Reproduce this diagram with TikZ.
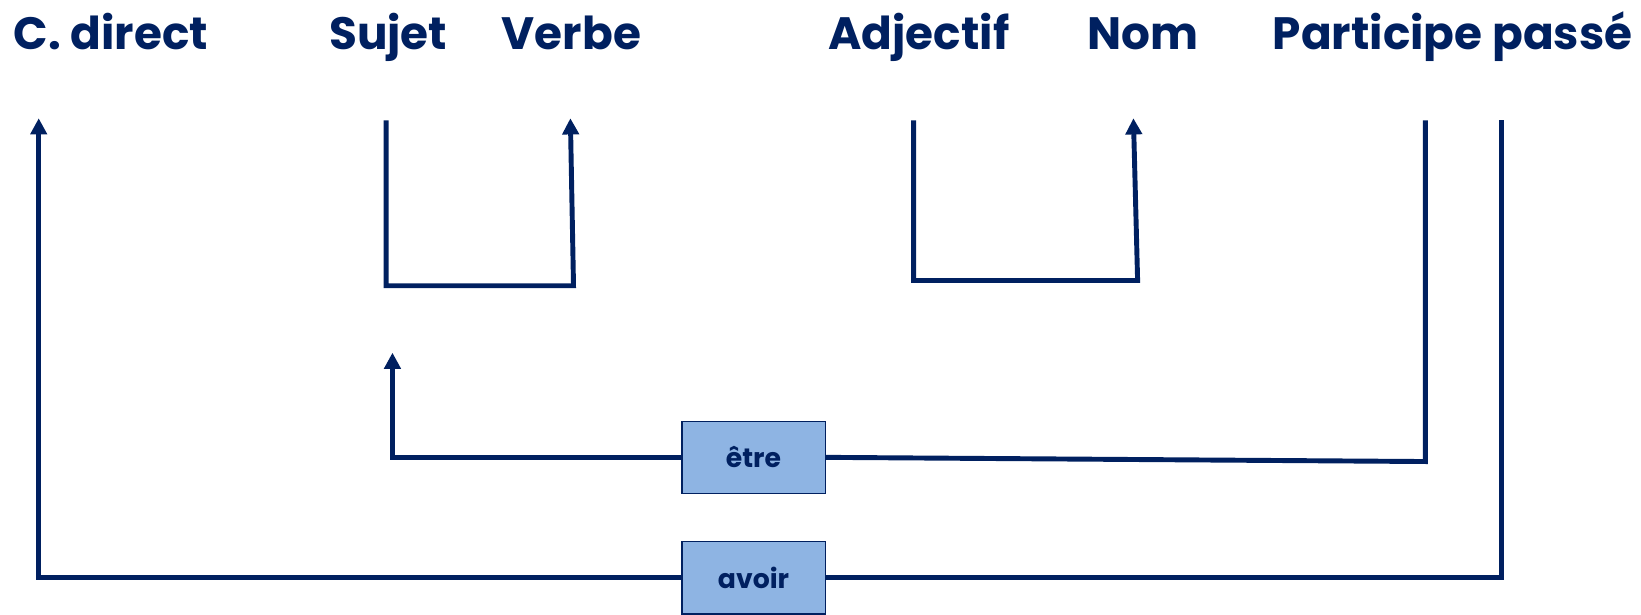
\documentclass[tikz,border=0pt]{standalone}
\usepackage{fontspec}
\setmainfont{Poppins}
\usepackage{tikz}
\usetikzlibrary{arrows.meta}
\definecolor{navy}{HTML}{002060}
\definecolor{boxblue}{HTML}{8EB4E3}

\begin{document}
\begin{tikzpicture}[x=0.010466cm,y=-0.010466cm,
    word/.style={anchor=base,inner sep=0pt,text=navy,font=\fontsize{12.9}{15}\selectfont\bfseries},
    aux/.style={draw=navy,fill=boxblue,minimum width=1.434cm,minimum height=0.722cm,inner sep=0pt,text=navy,font=\fontsize{7.6}{8}\selectfont\bfseries},
    link/.style={draw=navy,line width=1.4pt},
    tip/.style={-{Triangle[width=4.6pt,length=4.6pt]}}]
    \useasboundingbox (0,0) rectangle (1568,586.7);

    \node[word] (cd) at (106,47) {C. direct};
    \node[word] (suj) at (371,47) {Sujet};
    \node[word] (vb) at (546,47) {Verbe};
    \node[word] (adj) at (878,47) {Adjectif};
    \node[word] (nom) at (1092,47) {Nom};
    \node[word] (pp) at (1388,47) {Participe passé};

    \node[aux] (etre) at (720,437) {être};
    \node[aux] (avoir) at (720,552) {avoir};

    \coordinate (s0) at (369,115);
    \coordinate (s1) at (369,273);
    \coordinate (s2) at (548,273);
    \coordinate (v0) at (545,113);
    \coordinate (a0) at (873,115);
    \coordinate (a1) at (873,268);
    \coordinate (a2) at (1087,268);
    \coordinate (n0) at (1083,113);
    \coordinate (p0) at (1362,115);
    \coordinate (p1) at (1362,441);
    \coordinate (e1) at (375,437);
    \coordinate (e2) at (375,337);
    \coordinate (q0) at (1435,115);
    \coordinate (q1) at (1435,552);
    \coordinate (c1) at (37,552);
    \coordinate (c2) at (37,113);

    \draw[link,tip] (s0) -- (s1) -- (s2) -- (v0);
    \draw[link,tip] (a0) -- (a1) -- (a2) -- (n0);
    \draw[link] (p0) -- (p1) -- (etre.east);
    \draw[link,tip] (etre.west) -- (e1) -- (e2);
    \draw[link] (q0) -- (q1) -- (avoir.east);
    \draw[link,tip] (avoir.west) -- (c1) -- (c2);
\end{tikzpicture}
\end{document}
